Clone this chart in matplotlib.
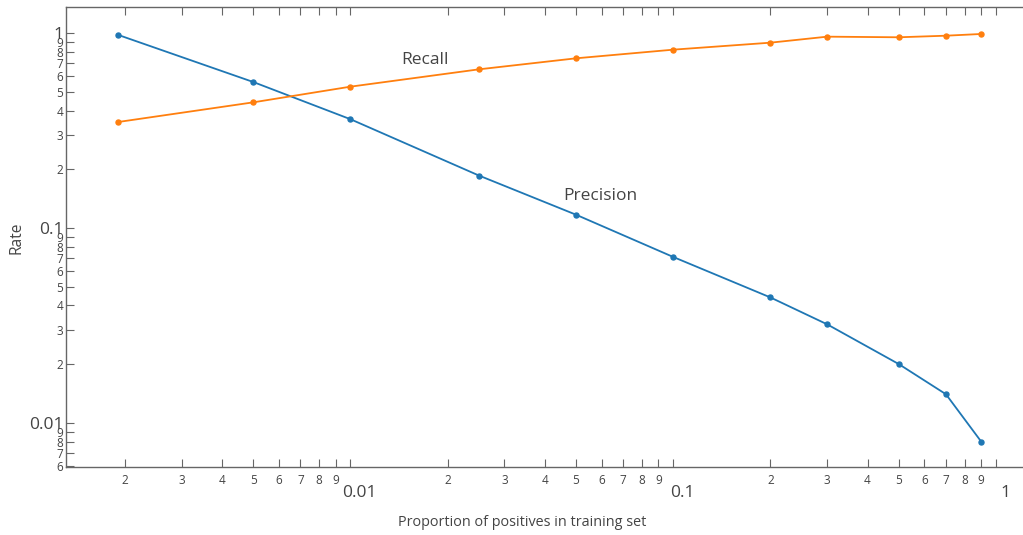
import math
import matplotlib
matplotlib.use('Agg')
import matplotlib.pyplot as plt
import matplotlib.transforms as mtransforms
from matplotlib.ticker import LogLocator, FuncFormatter

# Data
proportion = [0.0019, 0.005, 0.01, 0.025, 0.05, 0.1, 0.2, 0.3, 0.5, 0.7, 0.9]
precision = [0.983, 0.562, 0.362, 0.186, 0.117, 0.071, 0.044, 0.032, 0.020, 0.014, 0.0080]
recall = [0.350, 0.442, 0.532, 0.653, 0.744, 0.824, 0.895, 0.961, 0.954, 0.972, 0.992]

series_names = ["Precision", "Recall"]
x_title = "Proportion of positives in training set"
y_title = "Rate"

plt.rcParams['font.family'] = ['Open Sans', 'DejaVu Sans']
TEXT = '#444444'
AXC = '#666666'

W, H = 1023, 535
fig = plt.figure(figsize=(W / 100, H / 100), dpi=100)
left, right, top, bottom = 66, 1023, 7.3, 467.3
ax = fig.add_axes([left / W, 1 - bottom / H, (right - left) / W, (bottom - top) / H])

ax.plot(proportion, precision, color='#1f77b4', lw=1.3, marker='o', ms=3.6, zorder=3)
ax.plot(proportion, recall, color='#ff7f0e', lw=1.3, marker='o', ms=3.6, zorder=3)

ax.set_xscale('log')
ax.set_yscale('log')
ax.set_xlim(0.001314, 1.213)
ax.set_ylim(0.0059, 1.36)

for a in (ax.xaxis, ax.yaxis):
    a.set_major_locator(LogLocator(base=10))
    a.set_minor_locator(LogLocator(base=10, subs=range(2, 10)))
    a.set_major_formatter(FuncFormatter(lambda v, p: f"{v:g}"))
    a.set_minor_formatter(FuncFormatter(
        lambda v, p: str(int(round(v / 10 ** math.floor(math.log10(v) + 1e-9))))))

for s in ('left', 'bottom', 'top'):
    ax.spines[s].set_color(AXC)
    ax.spines[s].set_linewidth(1.0)
ax.spines['right'].set_visible(False)

ax.tick_params(axis='x', which='both', direction='in', top=True, bottom=True,
               length=5.5, width=0.8, color=AXC, labelcolor=TEXT)
ax.tick_params(axis='x', which='minor', labelsize=8.5, pad=5)
ax.tick_params(axis='x', which='major', labelsize=12.5, pad=13)
ax.tick_params(axis='y', which='both', direction='in', left=True, right=False,
               length=5.5, width=0.8, color=AXC, labelcolor=TEXT, pad=2)
ax.tick_params(axis='y', which='minor', labelsize=8.5)
ax.tick_params(axis='y', which='major', labelsize=12.5)

ax.set_xlabel(x_title, fontsize=10.4, color=TEXT)
ax.set_ylabel(y_title, fontsize=11.2, color=TEXT)
ax.xaxis.set_label_coords((522 - left) / (right - left), (bottom - 515) / (bottom - top))
ax.yaxis.set_label_coords((24 - left) / (right - left), (bottom - 238) / (bottom - top))

ax.text(0.01704, 0.729, series_names[1], fontsize=12.5, color=TEXT, ha='center', va='center')
ax.text(0.0594, 0.146, series_names[0], fontsize=12.5, color=TEXT, ha='center', va='center')

fig.canvas.draw()
off = mtransforms.ScaledTranslation(9 / 100, 0, fig.dpi_scale_trans)
for lab in ax.xaxis.get_majorticklabels():
    lab.set_transform(lab.get_transform() + off)

fig.savefig('out.png', dpi=100)
